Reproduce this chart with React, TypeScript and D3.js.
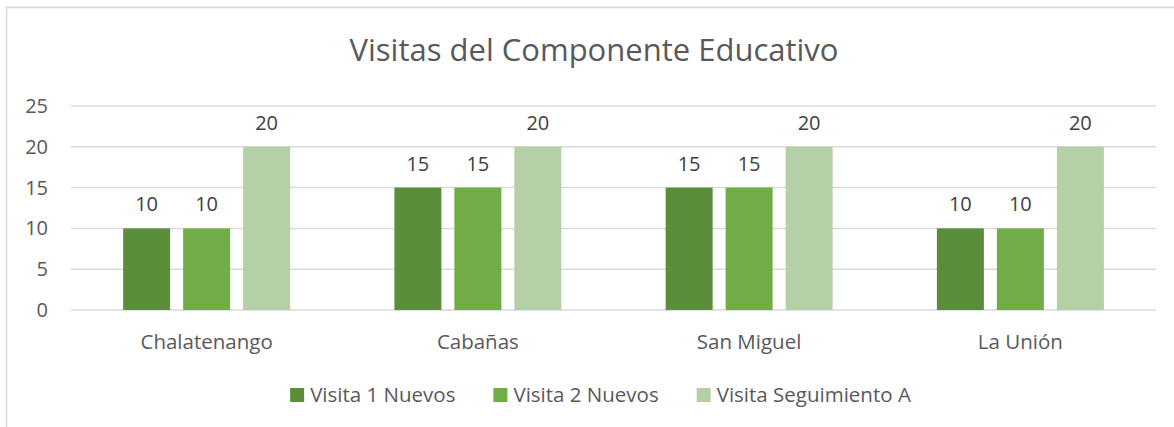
import React, { useEffect, useRef } from "react";
import * as d3 from "d3";

const categories = ["Chalatenango", "Cabañas", "San Miguel", "La Unión"];
const seriesNames = ["Visita 1 Nuevos", "Visita 2 Nuevos", "Visita Seguimiento A"];
const visita1 = [10, 15, 15, 10];
const visita2 = [10, 15, 15, 10];
const seguimiento = [20, 20, 20, 20];
const yTicks = [0, 5, 10, 15, 20, 25];
const colors = ["#5B8E3A", "#70AD47", "#B5CFA7"];
const title = "Visitas del Componente Educativo";

const W = 1174;
const H = 427;
const FONT = "'Open Sans', sans-serif";
const TEXT = "#595959";

export default function App() {
  const ref = useRef<SVGSVGElement | null>(null);

  useEffect(() => {
    const svg = d3.select(ref.current);
    svg.selectAll("*").remove();

    const series = [visita1, visita2, seguimiento];
    const left = 71, right = 1156, top = 106, bottom = 310;

    svg.append("rect").attr("x", 6.5).attr("y", 7.5).attr("width", 1200).attr("height", 500)
      .attr("fill", "#fff").attr("stroke", "#D9D9D9").attr("stroke-width", 1.5);

    svg.append("text").attr("x", 594).attr("y", 61).attr("text-anchor", "middle")
      .attr("font-family", FONT).attr("font-size", 31).attr("fill", TEXT).text(title);

    const x = d3.scaleBand<string>().domain(categories).range([left, right]).paddingInner(0).paddingOuter(0);
    const xs = d3.scaleBand<number>().domain([0, 1, 2]).range([0, x.bandwidth()])
      .paddingInner(13 / 60).paddingOuter(0.869);
    const y = d3.scaleLinear().domain([0, 25]).range([bottom, top]);

    const grid = svg.append("g");
    yTicks.forEach((t) => {
      grid.append("line").attr("x1", left).attr("x2", right).attr("y1", y(t)).attr("y2", y(t))
        .attr("stroke", "#D9D9D9").attr("stroke-width", 1.5);
      grid.append("text").attr("x", 48).attr("y", y(t) + 7).attr("text-anchor", "end")
        .attr("font-family", FONT).attr("font-size", 20).attr("fill", TEXT).text(String(t));
    });

    const bars = svg.append("g");
    series.forEach((vals, si) => {
      vals.forEach((v, ci) => {
        const bx = (x(categories[ci]) as number) + (xs(si) as number);
        bars.append("rect").attr("x", bx).attr("y", y(v)).attr("width", xs.bandwidth())
          .attr("height", y(0) - y(v)).attr("fill", colors[si]);
        bars.append("text").attr("x", bx + xs.bandwidth() / 2).attr("y", y(v) - 17)
          .attr("text-anchor", "middle").attr("font-family", FONT).attr("font-size", 20)
          .attr("fill", "#404040").text(String(v));
      });
    });

    categories.forEach((c) => {
      svg.append("text").attr("x", (x(c) as number) + x.bandwidth() / 2).attr("y", 349)
        .attr("text-anchor", "middle").attr("font-family", FONT).attr("font-size", 20.5)
        .attr("fill", TEXT).text(c);
    });

    // legend
    const lg = svg.append("g");
    const items = seriesNames.map((name, i) => {
      const g = lg.append("g");
      g.append("rect").attr("x", 0).attr("y", -13.5).attr("width", 14).attr("height", 14).attr("fill", colors[i]);
      const t = g.append("text").attr("x", 20).attr("y", 0).attr("font-family", FONT)
        .attr("font-size", 20.5).attr("fill", TEXT).text(name);
      const w = 20 + (t.node() as SVGTextElement).getComputedTextLength();
      return { g, w };
    });
    const gap = 38;
    const total = d3.sum(items, (d) => d.w) + gap * (items.length - 1);
    let cx = 600.5 - total / 2;
    items.forEach((it) => {
      it.g.attr("transform", `translate(${cx},401.5)`);
      cx += it.w + gap;
    });
  }, []);

  return (
    <svg ref={ref} width={W} height={H}
      style={{ position: "fixed", left: 0, top: 0, background: "#fff" }} />
  );
}
